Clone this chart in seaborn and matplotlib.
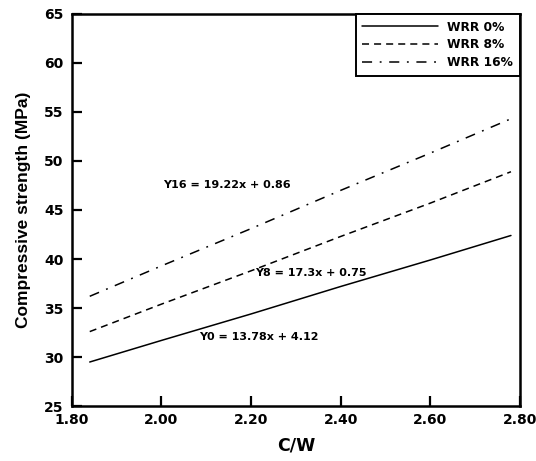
import matplotlib
matplotlib.use("Agg")
import matplotlib.pyplot as plt
import seaborn as sns
import pandas as pd

sns.set_style("ticks", {"axes.edgecolor": "black", "text.color": "black",
                        "xtick.color": "black", "ytick.color": "black",
                        "axes.labelcolor": "black"})
plt.rcParams['font.family'] = ['DejaVu Sans']

cw = [1.84, 2.00, 2.20, 2.40, 2.60, 2.78]
wrr0 = [29.5, 31.7, 34.4, 37.2, 39.9, 42.4]
wrr8 = [32.6, 35.4, 38.8, 42.3, 45.7, 48.9]
wrr16 = [36.2, 39.3, 43.1, 47.0, 50.8, 54.3]
labels = ["WRR 0%", "WRR 8%", "WRR 16%"]
equations = ["Y0 = 13.78x + 4.12", "Y8 = 17.3x + 0.75", "Y16 = 19.22x + 0.86"]

df = pd.DataFrame({"cw": cw * 3,
                   "val": wrr0 + wrr8 + wrr16,
                   "series": [labels[0]] * len(cw) + [labels[1]] * len(cw) + [labels[2]] * len(cw)})

fig = plt.figure(figsize=(5.36, 4.61), dpi=100)
ax = fig.add_axes([0.134, 0.119, 0.836, 0.851])

dashes = {labels[0]: "", labels[1]: (4.6, 3.3), labels[2]: (6.6, 5.0, 1.2, 5.0)}
sns.lineplot(data=df, x="cw", y="val", hue="series", style="series",
             palette=["black"] * 3, dashes=dashes, linewidth=1.1, ax=ax)

ax.set_xlim(1.8, 2.8)
ax.set_ylim(25, 65)
ax.set_xticks([1.8, 2.0, 2.2, 2.4, 2.6, 2.8])
ax.set_xticklabels([f"{v:.2f}" for v in [1.8, 2.0, 2.2, 2.4, 2.6, 2.8]])
ax.set_yticks(range(25, 66, 5))
ax.tick_params(direction="in", length=7, width=1.6, labelsize=10, colors="black")
ax.tick_params(axis="x", pad=5)
ax.tick_params(axis="y", pad=6)
for lab in ax.get_xticklabels() + ax.get_yticklabels():
    lab.set_fontweight("bold")
for s in ax.spines.values():
    s.set_linewidth(1.8)
    s.set_color("black")
    s.set_visible(True)

ax.set_xlabel("C/W", fontsize=12.5, fontweight="bold", labelpad=7, color="black")
ax.set_ylabel("Compressive strength (MPa)", fontsize=12.5, fontweight="bold",
              labelpad=9, family=["Liberation Sans", "DejaVu Sans"], color="black")

ax.text(2.083, 32.0, equations[0], fontsize=8, fontweight="bold", va="center", color="black")
ax.text(2.208, 38.6, equations[1], fontsize=8, fontweight="bold", va="center", color="black")
ax.text(2.003, 47.55, equations[2], fontsize=8, fontweight="bold", va="center", color="black")

leg = ax.legend(loc="upper right", fontsize=8.8, frameon=True, fancybox=False,
                borderaxespad=0.0, handlelength=6.2, labelspacing=0.38,
                borderpad=0.55, handletextpad=0.75)
leg.get_frame().set_edgecolor("black")
leg.get_frame().set_linewidth(1.4)
leg.get_frame().set_alpha(1)
for t in leg.get_texts():
    t.set_fontweight("bold")
    t.set_color("black")

fig.savefig("out.png", dpi=100)
